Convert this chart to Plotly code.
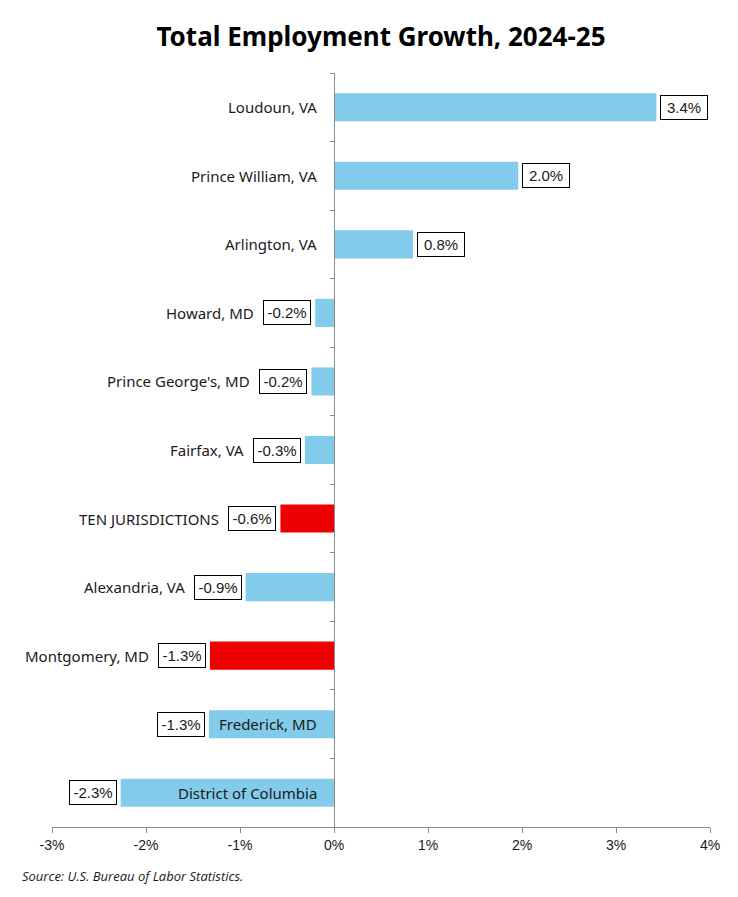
import plotly.graph_objects as go

# data
places = ["Loudoun, VA", "Prince William, VA", "Arlington, VA", "Howard, MD",
          "Prince George's, MD", "Fairfax, VA", "TEN JURISDICTIONS",
          "Alexandria, VA", "Montgomery, MD", "Frederick, MD",
          "District of Columbia"]
growth = [3.43, 1.96, 0.84, -0.20, -0.24, -0.31, -0.57, -0.94, -1.32, -1.33, -2.27]
highlight = ["TEN JURISDICTIONS", "Montgomery, MD"]
# names that sit inside their bar, next to the zero line
inside_bar = ["Frederick, MD", "District of Columbia"]
x_ticks = [-3, -2, -1, 0, 1, 2, 3, 4]
x_tick_text = ["-3%", "-2%", "-1%", "0%", "1%", "2%", "3%", "4%"]

BLUE = "#83CBEB"
RED = "#EE0000"
AXIS = "#8C8C8C"
TXT = "#1a1a1a"
FONT = "Noto Sans"
NUMFONT = "Liberation Sans"
BOX_W = 40      # text width of the value boxes
BOX_PAD = 3
BOX_GAP = 4
box_total = BOX_W + 2 * BOX_PAD + 2

colors = [RED if p in highlight else BLUE for p in places]

fig = go.Figure()
fig.add_trace(go.Bar(x=growth, y=places, orientation="h",
                     marker=dict(color=colors, line=dict(width=0)),
                     hoverinfo="skip"))

for p, v in zip(places, growth):
    # boxed value label at the bar end
    fig.add_annotation(x=v, y=p, xref="x", yref="y",
                       text="{:.1f}%".format(v), showarrow=False,
                       xanchor="left" if v >= 0 else "right",
                       xshift=BOX_GAP if v >= 0 else -BOX_GAP,
                       width=BOX_W, align="center",
                       font=dict(family=NUMFONT, size=15, color=TXT),
                       bgcolor="white", bordercolor="black",
                       borderwidth=1, borderpad=BOX_PAD)
    # category name: by the zero line, or left of the box for short negatives
    if v < 0 and p not in inside_bar:
        nx, shift = v, -(BOX_GAP + box_total + 7)
    else:
        nx, shift = 0, -15
    fig.add_annotation(x=nx, y=p, xref="x", yref="y", text=p,
                       showarrow=False, xanchor="right", xshift=shift,
                       font=dict(family=FONT, size=15, color=TXT))

fig.add_annotation(text="<i>Source: U.S. Bureau of Labor Statistics.</i>",
                   xref="paper", yref="paper", x=-0.049, y=0, yshift=-49,
                   xanchor="left", yanchor="middle", showarrow=False,
                   font=dict(family="Open Sans", size=13, color=TXT))

zero_pos = (0 - x_ticks[0]) / (x_ticks[-1] - x_ticks[0])

# the page body adds 8px, so the margins are trimmed by that much
fig.update_layout(
    width=738, height=897,
    margin=dict(l=44, r=36, t=65, b=78),
    paper_bgcolor="white", plot_bgcolor="white",
    showlegend=False, bargap=0.59,
    title=dict(text="<b>Total Employment Growth, 2024-25</b>",
               x=0.5, xref="paper", y=1 - 29 / 897, yanchor="middle",
               font=dict(family="Noto Sans", size=26, color="black")),
    xaxis=dict(range=[x_ticks[0], x_ticks[-1]], tickvals=x_ticks,
               ticktext=x_tick_text, showgrid=False, zeroline=False,
               showline=True, linecolor=AXIS, linewidth=1.3,
               ticks="outside", ticklen=5, tickcolor=AXIS, tickwidth=1.3,
               tickfont=dict(family=NUMFONT, size=14, color=TXT)),
    xaxis2=dict(range=[x_ticks[0], x_ticks[-1]], tickvals=x_ticks,
                overlaying="x", anchor="y", side="bottom",
                showticklabels=False, showgrid=False, zeroline=False,
                showline=False, ticks="inside", ticklen=5,
                tickcolor=AXIS, tickwidth=1.3),
    yaxis=dict(type="category", autorange="reversed", anchor="free",
               position=zero_pos, showgrid=False, zeroline=False,
               showline=True, linecolor=AXIS, linewidth=1.3,
               ticks="outside", tickson="boundaries", ticklen=4,
               tickcolor=AXIS, tickwidth=1.3, showticklabels=False),
)

fig.write_html("out.html")
